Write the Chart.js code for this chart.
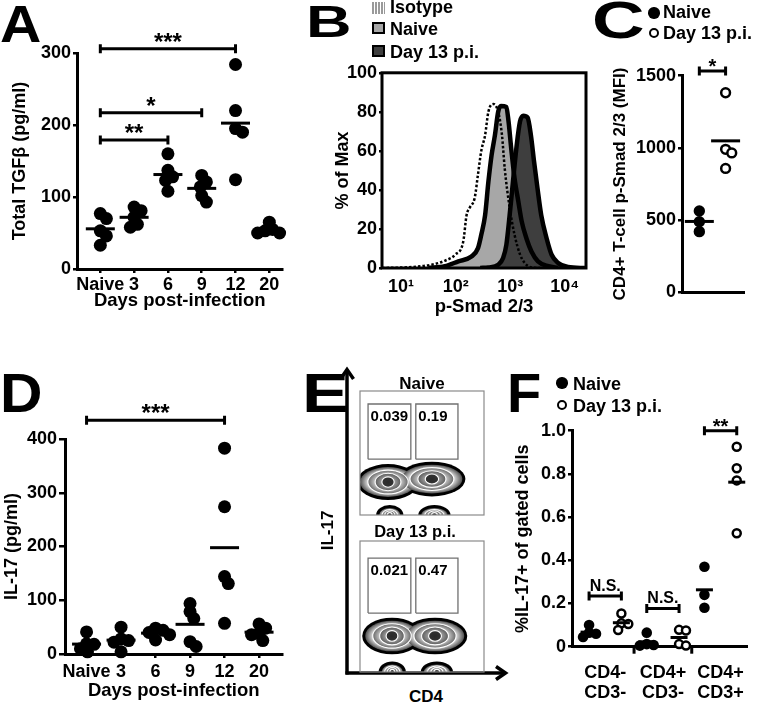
<!DOCTYPE html>
<html><head><meta charset="utf-8">
<script src="https://cdn.jsdelivr.net/npm/chart.js@4.4.0/dist/chart.umd.min.js"></script>
<style>
html,body{margin:0;padding:0;background:#fff}
body{width:762px;height:704px;overflow:hidden;position:relative;font-family:"Liberation Sans",Arial,sans-serif;color:#000}
canvas{position:absolute}
.t{position:absolute;white-space:nowrap;font-weight:bold;font-family:"Liberation Sans",Arial,sans-serif}
.dot{position:absolute;border-radius:50%;box-sizing:border-box}
.sw{position:absolute;box-sizing:border-box}
</style></head><body>
<svg style="position:absolute;left:0;top:0" width="762" height="704">
  <path d="M347 674.5 V371" stroke="#000" stroke-width="3.5" fill="none"/>
  <path d="M340.5 379 L347 369.5 L353.5 379" stroke="#000" stroke-width="3.5" fill="none" stroke-linejoin="miter"/>
  <path d="M345.5 673 H504" stroke="#000" stroke-width="3.5" fill="none"/>
  <path d="M496 666.5 L505.5 673 L496 679.5" stroke="#000" stroke-width="3.5" fill="none"/>
</svg>
<canvas id="cA" width="300" height="320" style="left:0;top:0"></canvas>
<canvas id="cB" width="300" height="260" style="left:300px;top:60px"></canvas>
<canvas id="cC" width="162" height="270" style="left:600px;top:40px"></canvas>
<canvas id="cD" width="300" height="304" style="left:0;top:400px"></canvas>
<canvas id="cE1" width="140" height="135" style="left:350px;top:385px"></canvas>
<canvas id="cE2" width="140" height="140" style="left:350px;top:535px"></canvas>
<canvas id="cF" width="262" height="304" style="left:500px;top:400px"></canvas>
<div id="texts"></div>
<script>
// ---------------- DATA ----------------
const dayLabels = ['Naive','3','6','9','12','20'];
// Panel A: total TGF-beta (pg/ml)
const aYTicks = [0,100,200,300];
const tgfNaive = [77,70,53,46,33];
const tgfDay3  = [86,81,72,62,58];
const tgfDay6  = [160,137,128,123,108];
const tgfDay9  = [130,121,114,102,93];
const tgfDay12 = [284,220,195,190,124];
const tgfDay20 = [65,55,53,50,50];
const aSigFrom = [0,0,0], aSigTo = [4,3,2], aSigY = [306,217,179], aSigText = ['***','*','**'];

// Panel B: p-Smad 2/3 histograms (x = log10 intensity, y = % of max)
const bXTicks = [1,2,3,4];
const bXTickLabels = ['10\u00B9','10\u00B2','10\u00B3','10\u2074'];
const bYTicks = [0,20,40,60,80,100];
const isoLog = [0.65,1.2,1.56,1.80,1.99,2.14,2.20,2.26,2.35,2.41,2.47,2.54,2.60,2.69,2.78,2.85,2.90,2.99,3.08,3.18,3.27,3.39,3.55];
const isoPct = [0,0.5,1.7,3.7,6.8,13.6,27,31,36,48,60,68,80,84,80,68,51,31,17,7,2.5,0.3,0];
const naiveLog = [1.50,1.80,2.05,2.29,2.41,2.47,2.54,2.60,2.66,2.72,2.78,2.83,2.93,2.97,3.02,3.08,3.15,3.21,3.30,3.39,3.51,3.70,3.88];
const naivePct = [0,0.9,3.4,5.9,10.2,17,27,44,58,68,80,83,82.5,75,61,46,34,24,15,8.5,3.4,0.9,0];
const d13Log = [2.45,2.60,2.78,2.87,2.93,2.99,3.05,3.12,3.18,3.24,3.32,3.38,3.44,3.50,3.57,3.67,3.76,3.88,4.06,4.37];
const d13Pct = [0,0.3,1.7,5.1,11.9,27,44,63,75,78,77,68,54,41,27,15,6.8,2.6,0.5,0];

// Panel C: CD4+ T-cell p-Smad 2/3 (MFI)
const cGroups = ['Naive','Day 13 p.i.'];
const cYTicks = [0,500,1000,1500];
const pSmadNaive = [563,489,420];
const pSmadDay13 = [1382,990,965,858];
const cSigFrom = [0], cSigTo = [1], cSigY = [1532], cSigText = ['*'];

// Panel D: IL-17 (pg/ml)
const dYTicks = [0,100,200,300,400];
const il17Naive = [41,19,18,10,4];
const il17Day3  = [50,28,25,22,4];
const il17Day6  = [48,44,40,36,26];
const il17Day9  = [94,79,66,23,14];
const il17Day12 = [383,274,144,131,57];
const il17Day20 = [56,48,38,36,25];
const dSigFrom = [0], dSigTo = [4], dSigY = [435], dSigText = ['***'];

// Panel E: flow plots (axes 0-100 units), gates and populations
const eGateX0 = [6.5,45], eGateX1 = [41,79];
const eNaiveGateY0 = [45,45], eNaiveGateY1 = [89.5,89.5];
const eDay13GateY0 = [45,45], eDay13GateY1 = [87,87];
const eNaiveGateText = ['0.039','0.19'];
const eDay13GateText = ['0.021','0.47'];
const eNaivePopX = [22.6,58,24,60], eNaivePopY = [26.6,29,0,0], eNaivePopRX = [25,27,11,13], eNaivePopRY = [14.5,14,8,8];
const eDay13PopX = [25.8,60.5,26,62], eDay13PopY = [27.5,27.5,0,0], eDay13PopRX = [24,26,11,13], eDay13PopRY = [14,14,8,8];

// Panel F: %IL-17+ of gated cells
const fCats = [['CD4-','CD3-'],['CD4+','CD3-'],['CD4+','CD3+']];
const fYTicks = [0,0.2,0.4,0.6,0.8,1.0];
const fYTickLabels = ['0','0.2','0.4','0.6','0.8','1.0'];
const fNaive = [[0.10,0.065,0.06,0.045],[0.065,0.012,0.008,0.005],[0.37,0.24,0.18]];
const fDay13 = [[0.154,0.108,0.105,0.077],[0.078,0.075,0.012,0.005],[0.926,0.826,0.77,0.525]];
const fSigFrom = [-0.28,0.72,1.72], fSigTo = [0.28,1.28,2.28], fSigY = [0.235,0.177,1.0], fSigText = ['N.S.','N.S.','**'];

// ---------------- HELPERS ----------------
const FF = '"Liberation Sans", Arial, sans-serif';
Chart.defaults.font.family = FF;
Chart.defaults.font.weight = 'bold';
Chart.defaults.color = '#000';
const fnt = (size, lh) => ({family:FF, size, weight:'bold', lineHeight: lh || 1.2});

function swarmX(vals, pxY, pxX, minD){
  const idx = vals.map((v,i)=>i).sort((a,b)=>vals[b]-vals[a]);
  const placed = [], off = new Array(vals.length).fill(0);
  for (const i of idx){
    const yp = vals[i]*pxY;
    for (let k=0;k<400;k++){
      const c = (k%2 ? 1 : -1) * Math.ceil(k/2) * 0.5;
      if (placed.every(p => Math.hypot(p.x-c, p.y-yp) >= minD)){ off[i]=c; placed.push({x:c,y:yp}); break; }
    }
  }
  return off.map(o => o/pxX);
}
function groupPoints(groups, offset, pxY, pxX, minD){
  const pts = [], means = [];
  groups.forEach((vals,i)=>{
    const off = swarmX(vals, pxY, pxX, minD);
    vals.forEach((v,j)=>pts.push({x:i+offset+off[j], y:v}));
    means.push({x:i+offset, y: vals.reduce((a,b)=>a+b,0)/vals.length});
  });
  return {pts, means};
}
const filledSet = (data, r) => ({data, showLine:false, pointRadius:r, pointBackgroundColor:'#000', pointBorderWidth:0, pointHoverRadius:r, clip:false, order:2});
const openSet = (data, r) => ({data, showLine:false, pointRadius:r, pointBackgroundColor:'#fff', pointBorderColor:'#000', pointBorderWidth:2.5, clip:false, order:2});
const meanSet = (data, r) => ({data, showLine:false, pointStyle:'line', pointRadius:r, pointBorderWidth:3, pointBorderColor:'#000', clip:false, order:0});

const sigPlugin = {
  id:'sig',
  afterDatasetsDraw(chart, args, o){
    const {ctx, scales:{x,y}} = chart;
    ctx.save();
    ctx.strokeStyle='#000'; ctx.fillStyle='#000'; ctx.lineWidth=3;
    (o.from||[]).forEach((f,i)=>{
      const x1=x.getPixelForValue(f), x2=x.getPixelForValue(o.to[i]), yy=y.getPixelForValue(o.y[i]);
      ctx.beginPath(); ctx.moveTo(x1,yy); ctx.lineTo(x2,yy);
      ctx.moveTo(x1,yy-4.5); ctx.lineTo(x1,yy+4.5); ctx.moveTo(x2,yy-4.5); ctx.lineTo(x2,yy+4.5); ctx.stroke();
      const star = /^\*+$/.test(o.text[i]);
      ctx.font = 'bold ' + (star ? o.starSize : 16) + 'px ' + FF;
      ctx.textAlign='center'; ctx.textBaseline='alphabetic';
      ctx.fillText(o.text[i], (x1+x2)/2, yy + (star ? o.starDy : -5));
    });
    (o.dividers||[]).forEach(d=>{
      const px=x.getPixelForValue(d), b=chart.chartArea.bottom;
      ctx.beginPath(); ctx.moveTo(px,b); ctx.lineTo(px,b+7); ctx.stroke();
    });
    ctx.restore();
  }
};
const framePlugin = {
  id:'frame',
  afterDraw(chart, args, o){
    if (!o.width) return;
    const {ctx, chartArea:a} = chart;
    ctx.save(); ctx.strokeStyle=o.color||'#000'; ctx.lineWidth=o.width;
    ctx.strokeRect(a.left, a.top, a.right-a.left, a.bottom-a.top);
    ctx.restore();
  }
};
function baseOpts(pad){
  return {responsive:false, maintainAspectRatio:false, animation:false, devicePixelRatio:1, events:[],
    layout:{padding:pad}, plugins:{legend:{display:false}, tooltip:{enabled:false}}};
}
function yAxis(min,max,ticks,labels,width,title,titleSize,titlePad,tl,pad){
  return {type:'linear', min, max,
    afterBuildTicks: s => { s.ticks = ticks.map(v=>({value:v})); },
    ticks:{font:fnt(18), color:'#000', padding:pad, callback:(v,i)=> labels ? labels[i] : String(v)},
    grid:{drawOnChartArea:false, drawTicks:true, tickLength:tl, color:'#000', lineWidth:2.5},
    border:{display:true, color:'#000', width:3},
    title:{display:!!title, text:title, font:fnt(titleSize), color:'#000', padding:{top:titlePad,bottom:0}},
    afterFit: s => { s.width = width; }};
}
function catXAxis(min,max,labels,height,title,tl,pad,titlePadB){
  return {type:'linear', min, max,
    afterBuildTicks: s => { s.ticks = labels.map((_,i)=>({value:i})); },
    ticks:{font:fnt(18), color:'#000', padding:pad, maxRotation:0, autoSkip:false, callback:(v)=>labels[v]},
    grid:{drawOnChartArea:false, drawTicks:tl>0, tickLength:tl, color:'#000', lineWidth:2.5},
    border:{display:true, color:'#000', width:3},
    title:{display:!!title, text:title, font:fnt(18.5), color:'#000', padding:{top:0,bottom:titlePadB}},
    afterFit: s => { s.height = height; }};
}

// ---------------- PANEL A ----------------
(function(){
  const g = groupPoints([tgfNaive,tgfDay3,tgfDay6,tgfDay9,tgfDay12,tgfDay20], 0, 216/300, 36.2, 8);
  const o = baseOpts({top:53,right:3,left:0,bottom:0});
  o.plugins.sig = {from:aSigFrom, to:aSigTo, y:aSigY, text:aSigText, starSize:24, starDy:1};
  o.scales = {
    x: catXAxis(-0.69, 5.39, dayLabels, 51, 'Days post-infection', 4, 1.7, 8.2),
    y: yAxis(0,300,aYTicks,null,77,'Total TGF\u03B2 (pg/ml)',18,9,4,2)
  };
  new Chart(document.getElementById('cA'), {type:'scatter', data:{datasets:[meanSet(g.means,14.5), filledSet(g.pts,6.5)]}, options:o, plugins:[sigPlugin]});
})();

// ---------------- PANEL B ----------------
(function(){
  const xy = (xs, ys) => xs.map((v,i)=>({x:v, y:ys[i]}));
  const o = baseOpts({top:12,right:14,left:0,bottom:0});
  o.plugins.frame = {width:3, color:'#000'};
  o.scales = {
    x: {type:'linear', min:0.65, max:4.39,
      afterBuildTicks: s => { s.ticks = bXTicks.map(v=>({value:v})); },
      ticks:{font:fnt(18), color:'#000', padding:8.7, maxRotation:0, autoSkip:false, callback:(v,i)=>bXTickLabels[i]},
      grid:{display:false, drawTicks:false},
      border:{display:false},
      title:{display:true, text:'p-Smad 2/3', font:fnt(18.5), color:'#000', padding:{top:0,bottom:1.5}},
      afterFit: s => { s.height = 52; }},
    y: yAxis(0,100,bYTicks,null,82,'% of Max',18,32,3,2)
  };
  o.scales.y.border = {display:false};
  const lineBase = {showLine:true, pointRadius:0, cubicInterpolationMode:'monotone', borderJoinStyle:'round'};
  new Chart(document.getElementById('cB'), {type:'line', data:{datasets:[
    Object.assign({data:xy(naiveLog,naivePct), fill:'origin', backgroundColor:'#a7a7a7', borderWidth:0, borderColor:'rgba(0,0,0,0)', order:5}, lineBase),
    Object.assign({data:xy(d13Log,d13Pct), fill:'origin', backgroundColor:'#3e3e3e', borderWidth:0, borderColor:'rgba(0,0,0,0)', order:4}, lineBase),
    Object.assign({data:xy(naiveLog,naivePct), fill:false, borderColor:'#000', borderWidth:4.5, order:3}, lineBase),
    Object.assign({data:xy(d13Log,d13Pct), fill:false, borderColor:'#000', borderWidth:4.5, order:2}, lineBase),
    Object.assign({data:xy(isoLog,isoPct), fill:false, borderColor:'#000', borderWidth:2.5, borderDash:[2.5,2], order:1}, lineBase)
  ]}, options:o, plugins:[framePlugin]});
})();

// ---------------- PANEL C ----------------
(function(){
  const n = groupPoints([pSmadNaive], 0, 216.6/1500, 32, 8);
  const d = groupPoints([pSmadDay13], 1, 216.6/1500, 32, 8);
  const o = baseOpts({top:35.7,right:4,left:0,bottom:0});
  o.plugins.sig = {from:cSigFrom, to:cSigTo, y:cSigY, text:cSigText, starSize:20, starDy:2};
  o.scales = {
    x: {type:'linear', min:-0.66, max:1.72, ticks:{display:false}, grid:{display:false, drawTicks:false},
        border:{display:true,color:'#000',width:3}, afterFit: s => { s.height = 17.7; }},
    y: yAxis(0,1500,cYTicks,null,82,'CD4+ T-cell p-Smad 2/3 (MFI)',17,10,4,2)
  };
  new Chart(document.getElementById('cC'), {type:'scatter', data:{datasets:[
    meanSet(n.means.concat(d.means),14.5), filledSet(n.pts,5.7), openSet(d.pts,4.4)
  ]}, options:o, plugins:[sigPlugin]});
})();

// ---------------- PANEL D ----------------
(function(){
  const g = groupPoints([il17Naive,il17Day3,il17Day6,il17Day9,il17Day12,il17Day20], 0, 215/400, 36.8, 8);
  const o = baseOpts({top:39,right:3,left:0,bottom:0});
  o.plugins.sig = {from:dSigFrom, to:dSigTo, y:dSigY, text:dSigText, starSize:24, starDy:1};
  o.scales = {
    x: catXAxis(-0.625, 5.68, dayLabels, 50, 'Days post-infection', 4, 2.9, 2.2),
    y: yAxis(0,400,dYTicks,null,65,'IL-17 (pg/ml)',18,1.5,6,2)
  };
  new Chart(document.getElementById('cD'), {type:'scatter', data:{datasets:[meanSet(g.means,14.5), filledSet(g.pts,6.5)]}, options:o, plugins:[sigPlugin]});
})();

// ---------------- PANEL E ----------------
const zebraPlugin = {
  id:'zebra',
  beforeDatasetsDraw(chart, args, o){
    const {ctx, chartArea:a, scales:{x,y}} = chart;
    ctx.save();
    ctx.beginPath(); ctx.rect(a.left,a.top,a.right-a.left,a.bottom-a.top); ctx.clip();
    const lv = [1,1,0.72,0.46,0.22];
    const cOut = ['#000','#505050','#666','#5a5a5a','#333'];
    const cIn  = ['#000','#dcdcdc','#c8c8c8','#a0a0a0','#2a2a2a'];
    const geo = o.cx.map((cx,i)=>{
      const px=x.getPixelForValue(cx), py=y.getPixelForValue(o.cy[i]);
      const rx=Math.abs(x.getPixelForValue(cx+o.rx[i])-px), ry=Math.abs(y.getPixelForValue(o.cy[i]+o.ry[i])-py);
      return {px,py,rx,ry};
    });
    const radii = (g,k) => {
      if (k===0) return [g.rx, g.ry];
      const bx = g.rx-3, by = g.ry-3;
      return [bx*lv[k], by*Math.pow(lv[k],0.7)];
    };
    lv.forEach((s,k)=>{
      geo.forEach(g=>{
        const [rxk, ryk] = radii(g,k);
        const nxt = k+1<lv.length ? radii(g,k+1)[0] : 0;
        ctx.save(); ctx.translate(g.px,g.py); ctx.scale(1, ryk/rxk);
        if (k===0) ctx.fillStyle='#000';
        else {
          const gr = ctx.createRadialGradient(0,0,nxt,0,0,rxk);
          gr.addColorStop(0,cIn[k]); gr.addColorStop(1,cOut[k]);
          ctx.fillStyle = gr;
        }
        ctx.beginPath(); ctx.arc(0,0,rxk,0,Math.PI*2); ctx.fill();
        ctx.restore();
        if (k>=2){ ctx.strokeStyle='#fff'; ctx.lineWidth=1.1; ctx.beginPath(); ctx.ellipse(g.px,g.py,rxk,ryk,0,0,Math.PI*2); ctx.stroke(); }
      });
    });
    ctx.restore();
  },
  afterDatasetsDraw(chart, args, o){
    const {ctx, scales:{x,y}} = chart;
    ctx.save(); ctx.fillStyle='#000'; ctx.font='bold 15px '+FF; ctx.textAlign='left'; ctx.textBaseline='alphabetic';
    o.gx0.forEach((gx,i)=>{ ctx.fillText(o.gtext[i], x.getPixelForValue(gx)+2.5, y.getPixelForValue(o.gy1[i])+16.5); });
    ctx.restore();
  }
};
function flowChart(id, pad, gy0, gy1, gtext, cx, cy, rx, ry){
  const rects = eGateX0.map((x0,i)=>{
    const x1=eGateX1[i];
    return {data:[{x:x0,y:gy0[i]},{x:x1,y:gy0[i]},{x:x1,y:gy1[i]},{x:x0,y:gy1[i]},{x:x0,y:gy0[i]}],
      showLine:true, pointRadius:0, borderColor:'#707070', borderWidth:1.3, fill:false, tension:0};
  });
  const o = baseOpts(pad);
  o.plugins.frame = {width:1.2, color:'#8a8a8a'};
  o.plugins.zebra = {cx, cy, rx, ry, gx0:eGateX0, gy1, gtext};
  o.scales = {x:{type:'linear',min:0,max:100,display:false}, y:{type:'linear',min:0,max:100,display:false}};
  new Chart(document.getElementById(id), {type:'scatter', data:{datasets:rects}, options:o, plugins:[zebraPlugin, framePlugin]});
}
flowChart('cE1', {left:10,top:6,right:6,bottom:5}, eNaiveGateY0, eNaiveGateY1, eNaiveGateText, eNaivePopX, eNaivePopY, eNaivePopRX, eNaivePopRY);
flowChart('cE2', {left:10,top:6,right:6,bottom:3}, eDay13GateY0, eDay13GateY1, eDay13GateText, eDay13PopX, eDay13PopY, eDay13PopRX, eDay13PopRY);

// ---------------- PANEL F ----------------
(function(){
  const n = groupPoints(fNaive, -0.28, 216, 62.5, 7.5);
  const d = groupPoints(fDay13, 0.28, 216, 62.5, 7.5);
  const o = baseOpts({top:30.7,right:0,left:0,bottom:0});
  o.plugins.sig = {from:fSigFrom, to:fSigTo, y:fSigY, text:fSigText, starSize:20, starDy:2, dividers:[0.5,1.5]};
  const xa = catXAxis(-0.576, 2.464, fCats, 57.3, '', 0, 16.4, 0);
  xa.ticks.font = fnt(18, 1.1);
  xa.grid = {display:false, drawTicks:false};
  o.scales = { x: xa, y: yAxis(0,1.0,fYTicks,fYTickLabels,72,'%IL-17+ of gated cells',18,12.2,4,2) };
  new Chart(document.getElementById('cF'), {type:'scatter', data:{datasets:[
    meanSet(n.means.concat(d.means),8.5), filledSet(n.pts,5.3), openSet(d.pts,4.0)
  ]}, options:o, plugins:[sigPlugin]});
})();

// ---------------- FREE TEXT ----------------
const T = document.getElementById('texts');
function txt(s, x, base, size, opt){
  opt = opt || {};
  const d = document.createElement('div');
  d.className = 't'; d.textContent = s;
  d.style.fontSize = size+'px'; d.style.lineHeight = size+'px';
  d.style.top = (base - 0.8465*size) + 'px';
  let tf = '';
  if (opt.center){ d.style.left = x+'px'; tf += 'translateX(-50%) '; }
  else d.style.left = x+'px';
  if (opt.sx){ tf += 'scaleX('+opt.sx+')'; d.style.transformOrigin = 'left center'; }
  if (tf) d.style.transform = tf;
  T.appendChild(d); return d;
}
function dot(cx, cy, r, open){
  const d = document.createElement('div'); d.className='dot';
  d.style.left=(cx-r)+'px'; d.style.top=(cy-r)+'px'; d.style.width=(2*r)+'px'; d.style.height=(2*r)+'px';
  d.style.background = open ? '#fff' : '#000';
  if (open) d.style.border = '2.6px solid #000';
  T.appendChild(d);
}
function sw(x, y, w, h, bg, border){
  const d = document.createElement('div'); d.className='sw';
  d.style.left=x+'px'; d.style.top=y+'px'; d.style.width=w+'px'; d.style.height=h+'px';
  d.style.background=bg; if (border) d.style.border=border;
  T.appendChild(d);
}
// panel letters
txt('A', 0, 42, 52, {sx:1.1});
txt('B', 306, 37, 45, {sx:1.4});
txt('C', 592, 38, 52, {sx:1.4});
txt('D', 0, 412, 56, {sx:1.05});
txt('E', 302, 412, 56, {sx:1.25});
txt('F', 507, 412, 56);
// B legend
sw(372, 2, 13, 12, 'repeating-linear-gradient(90deg,#9a9a9a 0 1.5px,#fff 1.5px 3px)');
sw(372, 22, 13, 12, '#a7a7a7', '2.5px solid #000');
sw(372, 45, 13, 12, '#3e3e3e', '2.5px solid #000');
txt('Isotype', 390, 13, 18);
txt('Naive', 390, 35, 18);
txt('Day 13 p.i.', 390, 58, 18);
// C legend
dot(654, 13, 5.7, false); txt(cGroups[0], 663, 18, 18);
dot(654, 33, 5.2, true); txt(cGroups[1], 663, 39, 18);
// F legend
dot(562, 383, 5.7, false); txt(cGroups[0], 573, 390, 18);
dot(562, 405, 5.2, true); txt(cGroups[1], 573, 412, 18);
// E labels
txt('Naive', 422, 389, 17, {center:true});
txt('Day 13 p.i.', 415, 537, 16.5, {center:true});
txt('CD4', 426, 702, 17, {center:true});
const il = txt('IL-17', 327, 536, 17, {center:true});
il.style.transform = 'translateX(-50%) rotate(-90deg)';
il.style.transformOrigin = '50% 50%';
</script>
</body></html>
